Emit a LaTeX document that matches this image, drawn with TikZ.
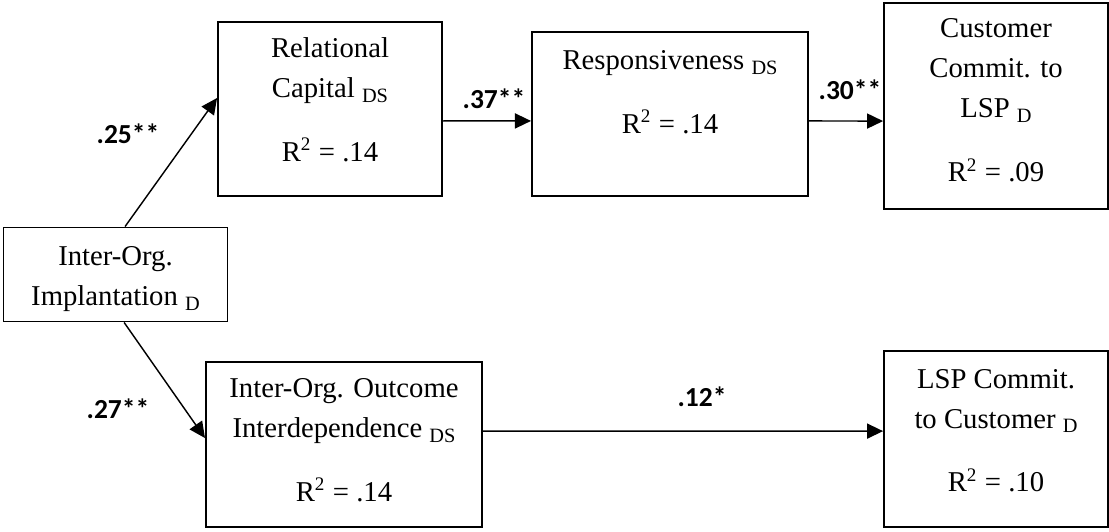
\documentclass[tikz,border=0pt]{standalone}
\usepackage{fontspec}
\setmainfont{Liberation Serif}
\newfontfamily\coeffont{Carlito}
\usetikzlibrary{arrows.meta}
\newcommand{\lowsub}[1]{\raisebox{-2pt}{\fontsize{8.5}{8.5}\selectfont #1}}

\begin{document}
\begin{tikzpicture}[x=0.418pt, y=-0.418pt, >={Triangle[length=6.7pt,width=6.3pt]}]
    % Style definitions
    \tikzset{var/.style={draw, line width=0.8pt, inner sep=0pt, align=center, font=\fontsize{12}{16.7}\selectfont}}
    \tikzset{coef/.style={font=\coeffont\bfseries\fontsize{11.5}{12}\selectfont, inner sep=0pt}}
    \tikzset{arrow/.style={line width=0.6pt, ->}}

    % Page
    \fill[white] (0,0) rectangle (1109,531);
    \useasboundingbox (0,0) rectangle (1109,531);

    % Variables
    \node[var, minimum width=93.6pt, minimum height=39.3pt, text height=32.5pt, text depth=6.8pt] (impl) at (115.5,274.5) {Inter-Org.\\Implantation \lowsub{D}};
    \node[var, minimum width=93.6pt, minimum height=72.7pt, text height=58.2pt, text depth=14.5pt] (rel) at (330,109) {Relational\\Capital \lowsub{DS}\\[10pt]R\textsuperscript{2} = .14};
    \node[var, minimum width=115.4pt, minimum height=68.6pt, text height=42.4pt, text depth=26.2pt] (resp) at (670,114) {Responsiveness \lowsub{DS}\\[10pt]R\textsuperscript{2} = .14};
    \node[var, minimum width=93.6pt, minimum height=86.1pt, text height=74.7pt, text depth=11.4pt] (cust) at (996,106) {Customer\\Commit. to\\LSP \lowsub{D}\\[10pt]R\textsuperscript{2} = .09};
    \node[var, minimum width=115.4pt, minimum height=69pt, text height=58.2pt, text depth=10.8pt] (outc) at (344,444.5) {Inter-Org. Outcome\\Interdependence \lowsub{DS}\\[10pt]R\textsuperscript{2} = .14};
    \node[var, minimum width=93.6pt, minimum height=73.6pt, text height=58.9pt, text depth=14.7pt] (lspc) at (996,439) {LSP Commit.\\to Customer \lowsub{D}\\[10pt]R\textsuperscript{2} = .10};

    % Path coefficients
    \node[coef] (c25) at (128,134) {.25**};
    \node[coef] (c37) at (494,99) {.37**};
    \node[coef] (c30) at (850,90) {.30**};
    \node[coef] (c27) at (118,409) {.27**};
    \node[coef] (c12) at (702,397) {.12*};

    % Arrows
    \draw[arrow] ([xshift=4pt]impl.north) -- ([yshift=4.6pt]rel.west);
    \draw[arrow] ([yshift=-5pt]rel.east) -- ([yshift=-2.9pt]resp.west);
    \draw[arrow] ([yshift=-2.9pt]resp.east) -- ([yshift=-6.3pt]cust.west);
    \draw[arrow] ([xshift=3.6pt]impl.south) -- ([yshift=2.7pt]outc.west);
    \draw[arrow] ([yshift=5.6pt]outc.east) -- ([yshift=3.3pt]lspc.west);
\end{tikzpicture}
\end{document}
